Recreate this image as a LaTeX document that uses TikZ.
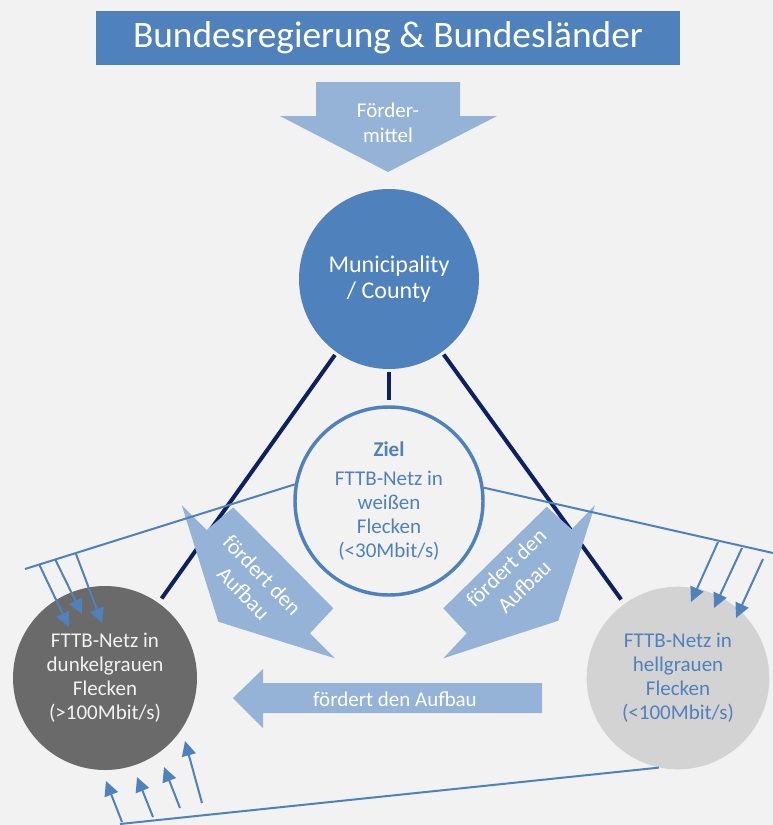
\documentclass[tikz,border=0pt]{standalone}
\usepackage{fontspec}
\setmainfont{Carlito}
\usetikzlibrary{arrows.meta}
\definecolor{bg}{HTML}{F2F2F2}
\definecolor{accent}{HTML}{4F81BD}
\definecolor{pale}{HTML}{95B3D7}
\definecolor{navy}{HTML}{0B2160}
\definecolor{darkspot}{HTML}{6A6A6A}
\definecolor{lightspot}{HTML}{D3D3D3}

\begin{document}
\begin{tikzpicture}[x=0.75pt,y=-0.75pt,
  bodytext/.style={font=\fontsize{15.75}{18}\selectfont, align=center},
  spot/.style={circle, inner sep=0pt, bodytext},
  navyline/.style={draw=navy, line width=3pt, shorten <=2.25pt, shorten >=4pt},
  thinline/.style={draw=accent, line width=1.5pt},
  pointer/.style={draw=accent, line width=1.5pt, -{Triangle[length=11pt,width=10.5pt]}},
  blockarrow/.style={fill=pale},
  arrowlabel/.style={text=white, font=\fontsize{15.75}{18}\selectfont, align=center, inner sep=0pt},
  slantlabel/.style={arrowlabel, font=\fontsize{16.5}{19.5}\selectfont}
]
% canvas
\fill[bg] (0,0) rectangle (773,825);
\useasboundingbox (0,0) rectangle (773,825);

% header
\node[fill=accent, minimum width=438pt, minimum height=40.5pt, inner sep=0pt,
      text=white, font=\fontsize{28}{32}\selectfont] (title) at (388,38)
      {Bundesregierung \& Bundesländer};

% funding arrow
\fill[blockarrow] (316,82) -- (460,82) -- (460,116) -- (497,116) -- (388,172)
  -- (280,116) -- (316,116) -- cycle;
\node[arrowlabel, font=\fontsize{15.75}{18.75}\selectfont, anchor=base] (funds)
  at (388,142) {Förder-\\mittel};

% circles
\node[spot, fill=accent, minimum size=135pt, text=white,
      font=\fontsize{18}{19}\selectfont] (muni) at (389,279) {Municipality\\/ County};
\node[spot, draw=accent, line width=2.6pt, minimum size=141pt, text=accent] (goal)
  at (389,501) {\textbf{Ziel}\\[4pt]FTTB-Netz in\\weißen\\Flecken\\(<30Mbit/s)};
\node[spot, fill=darkspot, minimum size=138pt, text=bg] (dark) at (105,678)
  {FTTB-Netz in\\dunkelgrauen\\Flecken\\(>100Mbit/s)};
\node[spot, fill=lightspot, minimum size=137pt, text=accent] (light) at (678,678)
  {FTTB-Netz in\\hellgrauen\\Flecken\\(<100Mbit/s)};

% links from the municipality
\draw[navyline] (muni) -- (dark);
\draw[navyline] (muni) -- (goal);
\draw[navyline] (muni) -- (light);

% support arrows
\fill[blockarrow] (181.7,505) -- (206.7,530) -- (233.3,507.3) -- (333.3,608.3)
  -- (310,633.3) -- (335,658.3) -- (218.3,621.7) -- cycle;
\fill[blockarrow] (443.3,608.3) -- (546.7,506.7) -- (571.7,529.3) -- (595,505)
  -- (558.3,620.7) -- (443.3,658.3) -- (466.7,633.3) -- cycle;
\fill[blockarrow] (542,683) -- (263,683) -- (263,669) -- (233,698) -- (263,728)
  -- (263,713) -- (542,713) -- cycle;
\node[slantlabel, rotate=-46] (boostL) at (253,584) {fördert den\\Aufbau};
\node[slantlabel, rotate=44] (boostR) at (515,577) {fördert den\\Aufbau};
\node[arrowlabel, anchor=base] (boostH) at (395,706.5) {fördert den Aufbau};

% boundary lines
\coordinate (lfree) at (25,569);
\coordinate (rfree) at (773,553);
\coordinate (bfree) at (120,824);
\draw[thinline] (lfree) -- (goal.170);
\draw[thinline] (goal.8) -- (rfree);
\draw[thinline] (bfree) -- (light.258);

% inflow arrows
\foreach \n/\sx/\sy/\ex/\ey in {
    a/39/564/69/627, b/55/559/82/614, c/76/554/102/623,
    d/718/542/691/602, e/742/548/714/608, f/763/559/736/618,
    g/122/822/106/781, h/153/817/137/777, i/180/808/164/767, j/202/803/185/741} {
  \coordinate (\n s) at (\sx,\sy);
  \coordinate (\n e) at (\ex,\ey);
  \draw[pointer] (\n s) -- (\n e);
}
\end{tikzpicture}
\end{document}
